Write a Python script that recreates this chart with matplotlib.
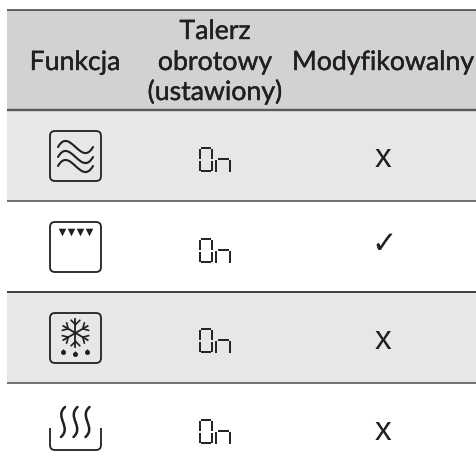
import numpy as np
import matplotlib
matplotlib.use('Agg')
import matplotlib.pyplot as plt
import matplotlib.patheffects as pe
from matplotlib.patches import FancyBboxPatch, PathPatch, Rectangle
from matplotlib.path import Path

# table content
header_func = 'Funkcja'
header_plate = ['Talerz', 'obrotowy', '(ustawiony)']
header_mod = 'Modyfikowalny'
plate_state = ['On', 'On', 'On', 'On']
modifiable = ['x', '✓', 'x', 'x']

# layout in pixels
left, right = 7, 477
rule_y = [10, 110, 201, 292, 383]
row_fill = ['#e6e7e8', '#ffffff', '#e6e7e8', '#ffffff']
row_bottom = [201, 292, 383, 470]
on_top = [147, 238, 328, 419]
mod_y = [159, 245, 341, 432]

INK = '#231f20'
LW = 1.3

fig = plt.figure(figsize=(4.77, 4.70), dpi=100)
ax = fig.add_axes([0, 0, 1, 1])
ax.set_xlim(0, 477)
ax.set_ylim(470, 0)
ax.axis('off')

heavy = [pe.withStroke(linewidth=0.3, foreground=INK)]


def curve(pts, lw=LW):
    codes = [Path.MOVETO] + [Path.CURVE4] * (len(pts) - 1)
    ax.add_patch(PathPatch(Path(pts, codes), fc='none', ec=INK, lw=lw, capstyle='round'))


def box(y0):
    ax.add_patch(FancyBboxPatch((54, y0 + 4), 43, 42, boxstyle='round,pad=4,rounding_size=5',
                                fc='none', ec=INK, lw=LW, zorder=3))


def seven_seg(y0):
    # "O" and "n" are drawn as display segments in the manual
    segs = [((199.8, y0 + 1.5), (199.8, y0 + 11.5)), ((199.8, y0 + 13.5), (199.8, y0 + 23.5)),
            ((212.5, y0 + 1.5), (212.5, y0 + 11.5)), ((212.5, y0 + 13.5), (212.5, y0 + 23.5)),
            ((201, y0 + 0.5), (211.3, y0 + 0.5)), ((201, y0 + 24.4), (211.3, y0 + 24.4)),
            ((216.5, y0 + 13), (216.5, y0 + 24.5)), ((230.2, y0 + 13), (230.2, y0 + 24.5)),
            ((218, y0 + 11.8), (229, y0 + 11.8))]
    for a, b in segs:
        ax.plot([a[0], b[0]], [a[1], b[1]], color=INK, lw=1.4, solid_capstyle='butt')


def waves_icon(y0):
    box(y0)
    for dy in [16, 26, 35]:
        y = y0 + dy
        curve([(58, y), (70, y - 21), (81, y + 21), (93, y)], lw=1.5)


def oven_icon(y0):
    box(y0)
    ax.scatter([62, 71, 80, 89], [y0 + 10] * 4, marker='v', s=30, color=INK, lw=0)


def snow_icon(y0):
    box(y0)
    cx, cy, r = 75.5, y0 + 20, 14
    for ang in np.radians([90, 30, -30, -90, -150, 150]):
        ux, uy = np.cos(ang), np.sin(ang)
        ax.plot([cx - 0, cx + r * ux], [cy, cy + r * uy], color=INK, lw=1.3)
        for side in [-1, 1]:
            a2 = ang + side * np.radians(45)
            bx, by = cx + 0.6 * r * ux, cy + 0.6 * r * uy
            ax.plot([bx, bx + 6 * np.cos(a2)], [by, by + 6 * np.sin(a2)], color=INK, lw=1.2)
    ax.scatter([63.5, 75.5, 87], [y0 + 38.5, y0 + 41, y0 + 38.5], s=13, color=INK, lw=0)
    ax.scatter([63.5, 75.5, 87], [y0 + 36.5, y0 + 39, y0 + 36.5], marker='^', s=5, color=INK, lw=0)


def steam_icon(y0):
    for x in [63, 75.5, 87.5]:
        curve([(x + 2, y0), (x - 9, y0 + 10), (x + 9, y0 + 20), (x - 2, y0 + 30)], lw=1.8)
    tray = [(50, y0 + 21), (50, y0 + 38), (50, y0 + 43), (55, y0 + 43), (96, y0 + 43),
            (101, y0 + 43), (101, y0 + 38), (101, y0 + 21)]
    codes = [Path.MOVETO, Path.LINETO, Path.CURVE3, Path.CURVE3, Path.LINETO,
             Path.CURVE3, Path.CURVE3, Path.LINETO]
    ax.add_patch(PathPatch(Path(tray, codes), fc='none', ec=INK, lw=LW))


# backgrounds
ax.add_patch(Rectangle((left, rule_y[0]), right - left, rule_y[1] - rule_y[0], fc='#d0d2d3', ec='none'))
top = rule_y[1]
for fill, bottom in zip(row_fill, row_bottom):
    ax.add_patch(Rectangle((left, top), right - left, bottom - top, fc=fill, ec='none'))
    top = bottom

for y, w, c in zip(rule_y, [1.1, 1.7, 1.2, 1.2, 1.2], ['#3a3a3c', '#58595b', '#58595b', '#231f20', '#58595b']):
    ax.plot([left, right], [y, y], color=c, lw=w, solid_capstyle='butt')

# header
font = dict(family='Lato', color=INK, ha='center', va='baseline', fontsize=19.2, path_effects=heavy)
ax.text(75, 70, header_func, **font)
for label, y in zip(header_plate, [39, 70, 100]):
    ax.text(215, y, label, **font)
ax.text(383, 70, header_mod, **font)

# rows
waves_icon(131)
oven_icon(222)
snow_icon(313)
steam_icon(407)

for y0 in on_top:
    seven_seg(y0)

for mark, y in zip(modifiable, mod_y):
    if mark == 'x':
        ax.text(383, y + 8, mark, family='Liberation Sans', fontsize=24, color=INK, ha='center', va='baseline')
    else:
        ax.text(384, y, mark, family='DejaVu Sans', fontsize=22, color=INK, ha='center', va='center')

fig.savefig('out.png', dpi=100)
